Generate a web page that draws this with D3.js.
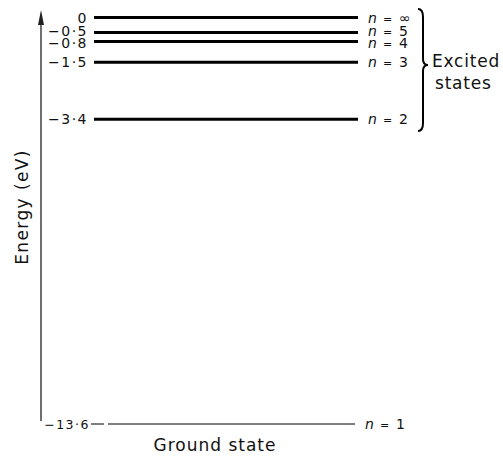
<!DOCTYPE html>
<html><head><meta charset="utf-8">
<script src="https://cdn.jsdelivr.net/npm/d3@7"></script>
<style>body{margin:0;background:#fff}svg{display:block}text{font-family:"DejaVu Sans",sans-serif;fill:#111}</style>
</head><body>
<script>
const energies = [0, -0.5, -0.8, -1.5, -3.4, -13.6];
const energyLabels = ["0", "−0·5", "−0·8", "−1·5", "−3·4", "−13·6"];
const nLabels = ["∞", "5", "4", "3", "2", "1"];
const lineWeights = [3, 3, 3, 3, 3, 1];
const labelNudge = [0, -1, 1.5, 0, 0, 0];
const axisTitle = "Energy (eV)";
const braceTitle = ["Excited", "states"];
const groundTitle = "Ground state";

const W = 503, H = 459;
const svg = d3.select("body").append("svg").attr("width", W).attr("height", H);
const y = d3.scaleLinear().domain([0, -13.6]).range([17.5, 424]);

// vertical axis with arrow
svg.append("line").attr("x1",41).attr("x2",41).attr("y1",y(-13.6)-3).attr("y2",16)
  .attr("stroke","#333").attr("stroke-width",1.4);
svg.append("path").attr("d","M38,25 L41,10 L44,25 Z").attr("fill","#222");

const g = svg.append("g");
energies.forEach((e, i) => {
  const yy = y(e);
  const ly = yy + labelNudge[i];
  const last = i === energies.length - 1;
  g.append("line").attr("x1", last ? 108 : 94).attr("x2", last ? 355 : 358)
    .attr("y1", yy).attr("y2", yy).attr("stroke", "#000").attr("stroke-width", lineWeights[i]);
  if (last) g.append("line").attr("x1", 91).attr("x2", 104).attr("y1", yy).attr("y2", yy)
    .attr("stroke","#000").attr("stroke-width",1);
  g.append("text").attr("x", last ? 90 : 88).attr("y", ly).attr("dy","0.36em")
    .attr("text-anchor","end").attr("letter-spacing", 1.5)
    .attr("font-size", last ? 12.5 : 14).text(energyLabels[i]);
  const t = g.append("text").attr("x", last ? 365 : 368).attr("y", ly).attr("dy","0.36em")
    .attr("font-size", 14);
  t.append("tspan").attr("font-style","italic").text("n");
  t.append("tspan").attr("font-size", 11).attr("dx", 6).text("=");
  t.append("tspan").attr("dx", 7).text(nLabels[i]);
});

// brace
const bt = 9, bb = 131, bm = 65, bx = 418, bw = 5;
svg.append("path")
  .attr("d", `M${bx},${bt} Q${bx+bw},${bt} ${bx+bw},${bt+8} L${bx+bw},${bm-6} Q${bx+bw},${bm} ${bx+bw+5},${bm} Q${bx+bw},${bm} ${bx+bw},${bm+6} L${bx+bw},${bb-8} Q${bx+bw},${bb} ${bx},${bb}`)
  .attr("fill","none").attr("stroke","#000").attr("stroke-width",2);
svg.append("text").attr("x",432).attr("y",67).attr("font-size",17).attr("letter-spacing",0.8).text(braceTitle[0]);
svg.append("text").attr("x",435).attr("y",89).attr("font-size",17).attr("letter-spacing",0.8).text(braceTitle[1]);

svg.append("text").attr("transform","translate(28,207) rotate(-90)")
  .attr("text-anchor","middle").attr("font-size",17).attr("letter-spacing",1.4).text(axisTitle);
svg.append("text").attr("x",215).attr("y",451).attr("text-anchor","middle")
  .attr("font-size",17).attr("letter-spacing",1).text(groundTitle);
</script>
</body></html>
